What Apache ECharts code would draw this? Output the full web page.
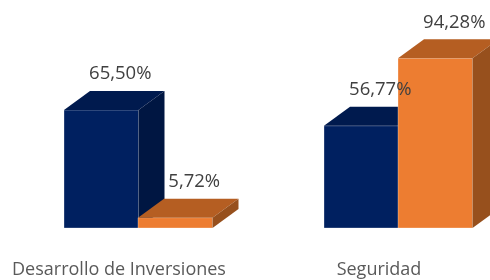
<!DOCTYPE html>
<html>
<head>
<meta charset="utf-8">
<script src="https://cdn.jsdelivr.net/npm/echarts@6/dist/echarts.min.js"></script>
<style>
  html, body { margin: 0; padding: 0; background: #fff; }
  #chart { width: 490px; height: 280px; }
</style>
</head>
<body>
<div id="chart"></div>
<script>
// datos del grafico
const categories = ['Desarrollo de Inversiones', 'Seguridad'];
const navyValues = [65.50, 56.77];
const orangeValues = [5.72, 94.28];

// estilo 3D de las barras
const BAR_W = 74.5;
const DX = 26, DY = 19;
const navyColors = ['#002060', '#001a4e', '#001642'];
const orangeColors = ['#ed7d31', '#b55e22', '#97501d'];

function fmt(v) {
  return v.toFixed(2).replace('.', ',') + '%';
}

function makeRender(offset, colors) {
  return function (params, api) {
    var base = api.coord([api.value(0), 0]);
    var top = api.coord([api.value(0), api.value(1)]);
    var x0 = base[0] + offset, x1 = x0 + BAR_W;
    var yb = base[1], yt = top[1];
    return {
      type: 'group',
      children: [
        {
          type: 'rect',
          shape: { x: x0, y: yt, width: BAR_W, height: yb - yt },
          style: { fill: colors[0], stroke: 'rgba(255,255,255,0.3)', lineWidth: 1 }
        },
        {
          type: 'polygon',
          shape: { points: [[x0, yt], [x0 + DX, yt - DY], [x1 + DX, yt - DY], [x1, yt]] },
          style: { fill: colors[1] }
        },
        {
          type: 'polygon',
          shape: { points: [[x1, yt], [x1 + DX, yt - DY], [x1 + DX, yb - DY], [x1, yb]] },
          style: { fill: colors[2] }
        },
        {
          type: 'text',
          z2: 100, // encima de las barras de la otra serie
          x: (x0 + x1) / 2 + 19,
          y: yt - DY - 17,
          style: {
            text: fmt(api.value(1)),
            textAlign: 'center',
            textVerticalAlign: 'middle',
            fill: '#404040',
            font: '18.5px "Open Sans"'
          }
        }
      ]
    };
  };
}

const chart = echarts.init(document.getElementById('chart'), null, { renderer: 'canvas' });

// eje x como valor para poder separar las categorias 260px
var option = {
  animation: false,
  grid: { left: 0, right: 0, top: 48, bottom: 52, outerBoundsMode: 'none' },
  xAxis: {
    type: 'value',
    min: -119 / 260,
    max: 371 / 260,
    splitLine: { show: false },
    axisLine: { show: false },
    axisTick: { show: false },
    axisLabel: {
      customValues: [0, 1],
      formatter: function (v) { return categories[Math.round(v)]; },
      margin: 33,
      color: '#595959',
      fontSize: 18,
      fontFamily: 'Open Sans'
    }
  },
  yAxis: {
    type: 'value',
    min: 0,
    max: 100,
    show: false
  },
  series: [
    {
      type: 'custom',
      name: 'navy',
      renderItem: makeRender(-55, navyColors),
      data: navyValues.map((v, i) => [i, v])
    },
    {
      type: 'custom',
      name: 'orange',
      renderItem: makeRender(19, orangeColors),
      data: orangeValues.map((v, i) => [i, v])
    }
  ]
};

chart.setOption(option);
</script>
</body>
</html>
